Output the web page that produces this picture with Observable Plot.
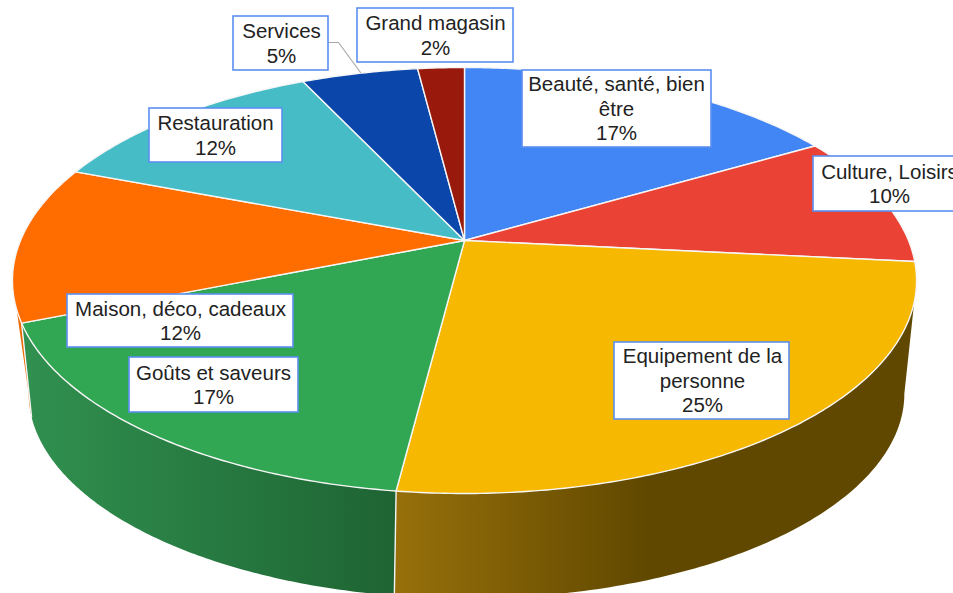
<!DOCTYPE html>
<html>
<head>
<meta charset="utf-8">
<style>
html,body{margin:0;padding:0;background:#fff;overflow:hidden}
svg{display:block}
</style>
<script src="https://cdn.jsdelivr.net/npm/d3@7"></script>
<script src="https://cdn.jsdelivr.net/npm/@observablehq/plot@0.6"></script>
</head>
<body>
<div id="chart"></div>
<script>
const categories = ["Beauté, santé, bien être","Culture, Loisirs","Equipement de la personne","Goûts et saveurs","Maison, déco, cadeaux","Restauration","Services","Grand magasin"];
const values = [16.6,10,25.4,16.9,11.9,12.2,5,2];
const wrappedNames = ["Beauté, santé, bien\nêtre","Culture, Loisirs","Equipement de la\npersonne","Goûts et saveurs","Maison, déco, cadeaux","Restauration","Services","Grand magasin"];
const sliceColors = ["#4285f4","#ea4335","#f6b800","#31a653","#ff6d00","#46bdc6","#0b47ab","#991a0c"];

// label box layout (left, right, top, bottom, text centre)
const boxLeft   = [522,813,614,129,67,149,233,357];
const boxRight  = [711,962,789,298,293,282,328,513];
const boxTop    = [70,156,342,357,294,108,16,8];
const boxBottom = [147,211,419,412,347,162,70,62];
const textCentre= [616,889,702,213,180,215,281,435];

// pie geometry: perspective projection of the unit circle, upper and lower rims
const K_TOP=0.1878, K_LOW=0.27;
const rim=(cx,c,A,B,k)=>t=>{const u=Math.sin(t),v=Math.cos(t),w=1+k*v;return [cx+A*u/w,(c-B*v)/w];};
const cx=464, cy=240;
const project=rim(cx,cy,444,160.4,K_TOP);
const lower=rim(466,337.6,421.6,98.9,K_LOW);

const cum=d3.cumsum(values);
const startOf=i=>(i?cum[i-1]:0)/100*2*Math.PI, endOf=i=>cum[i]/100*2*Math.PI;

const table=categories.map((name,i)=>({name,value:values[i],color:sliceColors[i],i,
  label:`${wrappedNames[i]}\n${Math.round(values[i])}%`,
  x1:boxLeft[i],x2:boxRight[i],y1:boxTop[i],y2:boxBottom[i],tx:textCentre[i],ty:(boxTop[i]+boxBottom[i])/2}));

// top faces
const faces=table.flatMap(d=>{
  const a=startOf(d.i),b=endOf(d.i),n=Math.max(8,Math.ceil((b-a)*90));
  const pts=[{x:cx,y:cy,name:d.name,color:d.color}];
  for(let j=0;j<=n;j++){const [x,y]=project(a+(b-a)*j/n);pts.push({x,y,name:d.name,color:d.color});}
  return pts;
});

// silhouette angles: where each rim reaches its widest x
const rightTop=Math.acos(-K_TOP), rightLow=Math.acos(-K_LOW);
const leftTop=2*Math.PI-rightTop, leftLow=2*Math.PI-rightLow;

// side walls, each filled with a horizontal gradient
const wallDefs=[
  {id:"wallOrange",top:[startOf(4),leftTop],low:[startOf(4),leftLow],gx:[10,40],stops:["#ee6a00","#e86600"]},
  {id:"wallGold",top:[rightTop,endOf(2)],low:[rightLow,endOf(2)],gx:[395,650],stops:["#97700a","#604800"]},
  {id:"wallGreen",top:[startOf(3),endOf(3)],low:[startOf(3),endOf(3)],gx:[27,395],stops:["#30904f","#1e6433"]}
];
const sweep=([a,b])=>d3.range(121).map(j=>a+(b-a)*j/120);
const wallPts=w=>[...sweep(w.top).map(project),...sweep(w.low).reverse().map(lower)].map(([x,y])=>({x,y,id:w.id}));
const gradients=()=>{
  const defs=d3.create("svg:defs");
  for(const w of wallDefs){
    const g=defs.append("linearGradient").attr("id",w.id).attr("gradientUnits","userSpaceOnUse")
      .attr("x1",w.gx[0]).attr("x2",w.gx[1]).attr("y1",0).attr("y2",0);
    g.append("stop").attr("offset",0).attr("stop-color",w.stops[0]);
    g.append("stop").attr("offset",1).attr("stop-color",w.stops[1]);
  }
  return defs.node();
};
const edgeData=[3,4].flatMap(i=>[project(startOf(i)),lower(startOf(i))].map(([x,y])=>({x,y,id:i})));

// leader line of the "Services" label
const leaderX=[328,338,360], leaderY=[42,42,72];
const leader=leaderX.map((x,i)=>({x,y:leaderY[i]}));

const plot=Plot.plot({
  width:953,height:593,margin:0,
  style:{background:"#fff",fontFamily:'"Liberation Sans",Arial,sans-serif',overflow:"hidden"},
  x:{domain:[0,953],range:[0,953],axis:null},
  y:{domain:[0,593],range:[0,593],axis:null},
  marks:[
    gradients,
    ...wallDefs.map(w=>Plot.line(wallPts(w),{x:"x",y:"y",fill:`url(#${w.id})`,stroke:"none",curve:"linear-closed"})),
    Plot.line(edgeData,{x:"x",y:"y",z:"id",stroke:"#f4f4f4",strokeWidth:1.4}),
    Plot.line(faces,{x:"x",y:"y",z:"name",fill:"color",stroke:"#f6f6f6",strokeWidth:1.4,curve:"linear-closed"}),
    Plot.line(leader,{x:"x",y:"y",stroke:"#aaaaaa",strokeWidth:1.2}),
    Plot.rect(table,{x1:"x1",x2:"x2",y1:"y1",y2:"y2",fill:"#fff",stroke:"#5b8ff0",strokeWidth:1.6}),
    Plot.text(table,{x:"tx",y:"ty",dy:-1,text:"label",fontSize:20.5,lineHeight:1.2,fill:"#222",textAnchor:"middle"})
  ]
});
document.getElementById("chart").appendChild(plot);
</script>
</body>
</html>
